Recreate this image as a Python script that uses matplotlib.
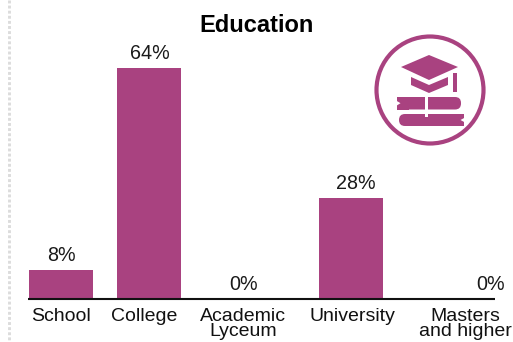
import matplotlib
matplotlib.use('Agg')
import matplotlib.pyplot as plt
from matplotlib.patches import Circle, Polygon, Rectangle, FancyBboxPatch

plt.rcParams['font.family'] = ['Liberation Sans', 'DejaVu Sans']

categories = ['School', 'College', 'Academic\nLyceum', 'University', 'Masters\nand higher']
values = [8, 64, 0, 28, 0]

# the columns are not evenly spaced, x is in pixels across the figure
bar_x = [61, 149, 243, 351, 490]
value_x = [61, 150, 243.5, 356, 490.5]
label_x = [60.5, 144.5, 243, 352, 465]

PURPLE = '#A94280'
W, H = 513, 342

fig = plt.figure(figsize=(W / 100, H / 100), dpi=100)

# main axes: x runs in figure pixels, y in percent
base_y = 299
top_y = 68
ax = fig.add_axes([0, (H - base_y) / H, 1, (base_y - top_y) / H])
ax.set_xlim(0, W)
ax.set_ylim(0, 64)
ax.patch.set_visible(False)
for s in ['top', 'left', 'right', 'bottom']:
    ax.spines[s].set_visible(False)
ax.set_yticks([])
ax.set_xticks([])

for x, tx, v in zip(bar_x, value_x, values):
    if v > 0:
        ax.bar(x, v, width=64, color=PURPLE, linewidth=0)
    ax.annotate('%d%%' % v, (tx, v), xytext=(0, 3.6), textcoords='offset points',
                ha='center', va='bottom', fontsize=14.2, color='#1a1a1a')

ax.plot([28, 495], [0, 0], color='#111111', lw=1.5, clip_on=False, solid_capstyle='butt')

for x, name in zip(label_x, categories):
    ax.annotate(name, (x, 0), xytext=(0, -6.6), textcoords='offset points',
                ha='center', va='top', fontsize=14, color='#111111',
                linespacing=0.8, annotation_clip=False)

fig.text(256.5 / W, 1 - 25.5 / H, 'Education', ha='center', va='center',
         fontsize=17, fontweight='bold', color='black')

# overlay in pixel coordinates for the dotted rule and the badge
ov = fig.add_axes([0, 0, 1, 1])
ov.set_xlim(0, W)
ov.set_ylim(H, 0)
ov.axis('off')
ov.patch.set_visible(False)

ov.plot([8.5, 8.5], [0, H], color='#dcdcdc', lw=2.1, linestyle=(0, (1, 0.75)))

# graduation cap on a stack of books
ov.add_patch(Circle((430, 90), 53.5, fill=False, ec=PURPLE, lw=3))
ov.add_patch(Polygon([(401, 67), (429, 55), (458, 67), (429, 80)], fc=PURPLE, ec='none'))
ov.add_patch(Polygon([(411, 77), (429, 85), (448, 77), (448, 85), (429, 93), (411, 85)],
                     fc=PURPLE, ec='none'))
ov.add_patch(Rectangle((453, 73), 4, 19, fc=PURPLE, ec='none'))

# top book has its spine on the right, bottom book on the left
ov.add_patch(FancyBboxPatch((400, 97), 61, 12.5, boxstyle='round,pad=0,rounding_size=6',
                            fc=PURPLE, ec='none'))
ov.add_patch(Rectangle((397, 97), 12, 12.5, fc=PURPLE, ec='none'))
ov.add_patch(Polygon([(396, 100.5), (400.5, 103.2), (396, 106)], fc='white', ec='none'))

ov.add_patch(FancyBboxPatch((399, 114), 60, 12, boxstyle='round,pad=0,rounding_size=6',
                            fc=PURPLE, ec='none'))
ov.add_patch(Rectangle((450, 114), 14, 12, fc=PURPLE, ec='none'))
ov.add_patch(Polygon([(465, 117.5), (460.5, 120), (465, 122.5)], fc='white', ec='none'))
ov.add_patch(Rectangle((424.8, 95), 3.2, 22, fc='white', ec='none'))

fig.savefig('out.png', dpi=100)
